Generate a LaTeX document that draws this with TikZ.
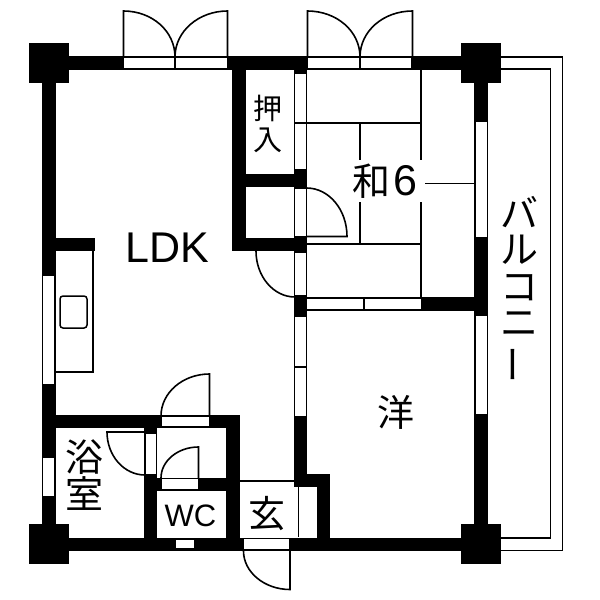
\documentclass[tikz,border=0pt]{standalone}
\usepackage{fontspec}
\setmainfont{Liberation Sans}
\newfontfamily\cjk{Noto Sans CJK JP}
\tikzset{
  wall/.style={fill=black,draw=none},
  win/.style={fill=white,draw=black,line width=1.5pt},
  thin/.style={draw=black,line width=1.5pt},
  tatami/.style={draw=black,line width=1.4pt},
  swing/.style={draw=black,line width=1.6pt},
  jp/.style={inner sep=0pt,align=center,font=\cjk\fontsize{#1}{36.5}\selectfont},
  jpnarrow/.style={inner sep=0pt,align=center,font=\cjk\fontsize{#1}{31}\selectfont},
  lat/.style={inner sep=0pt,font=\fontsize{#1}{#1}\selectfont},
}
\begin{document}
\begin{tikzpicture}[x=1pt,y=-1pt]
\useasboundingbox[fill=white] (0,0) rectangle (600,600);
% balcony rails
\draw[thin] (501,57) -- (562.5,57) -- (562.5,550.5) -- (501,550.5);
\draw[thin] (501,69) -- (550.5,69) -- (550.5,538) -- (501,538);
% tatami and thin partitions
\draw[tatami] (306,123) -- (421,123);
\draw[tatami] (421,70) -- (421,160) (421,202) -- (421,297);
\draw[tatami] (360,123) -- (360,160) (360,202) -- (360,244);
\draw[tatami] (306,244) -- (421,244);
\draw[tatami] (425,183.5) -- (474,183.5);
% kitchen
\draw[thin] (93,251) -- (93,372) -- (55,372);
\draw[thin,rounded corners=3pt] (60,296) rectangle (87,328);
% genkan
\draw[thin] (240,481) -- (294,481);
\draw[thin] (298.5,487) -- (298.5,537);
% walls
\fill[wall] (29,43) rectangle (69,83);
\fill[wall] (461,43) rectangle (501,83);
\fill[wall] (29,524) rectangle (69,564);
\fill[wall] (461,524) rectangle (501,564);
\fill[wall] (69,56) rectangle (461,70);
\fill[wall] (69,537.5) rectangle (461,551);
\fill[wall] (42,83) rectangle (56,524);
\fill[wall] (474,83) rectangle (488,524);
\fill[wall] (232,56) rectangle (246,251);
\fill[wall] (232,237.5) rectangle (294,251);
\fill[wall] (246,174) rectangle (294,187);
\fill[wall] (56,237.5) rectangle (95,251);
\fill[wall] (56,415) rectangle (240,428);
\fill[wall] (226,415) rectangle (240,551);
\fill[wall] (144,428) rectangle (157,551);
\fill[wall] (144,477.5) rectangle (226,491);
\fill[wall] (293.5,56) rectangle (306.5,73);
\fill[wall] (293.5,170) rectangle (306.5,188);
\fill[wall] (293.5,236.5) rectangle (306.5,252);
\fill[wall] (293.5,296) rectangle (306.5,316);
\fill[wall] (293.5,416.5) rectangle (306.5,487);
\fill[wall] (293.5,473.5) rectangle (330,487);
\fill[wall] (317,473.5) rectangle (330,551);
\fill[wall] (421.5,297) rectangle (488,311);
% sliding windows and door sills
\draw[win] (294.5,73) rectangle (306.5,170);
\draw[thin] (294.5,123) -- (306.5,123);
\draw[win] (294.5,188) rectangle (306.5,236.5);
\draw[win] (294.5,252) rectangle (306.5,296);
\draw[win] (294.5,316) rectangle (306.5,416.5);
\draw[thin] (294.5,367) -- (306.5,367);
\draw[win] (306.5,298) rectangle (421.5,310);
\draw[thin] (364,298) -- (364,310);
\draw[win] (475.5,121) rectangle (487.5,238);
\draw[win] (475.5,315) rectangle (487.5,415);
\draw[win] (42.5,275) rectangle (54.5,385);
\draw[win] (42.5,457) rectangle (54.5,497);
\draw[win] (145,433) rectangle (156.5,475);
\draw[win] (123.5,57) rectangle (227.5,69);
\draw[thin] (175,57) -- (175,69);
\draw[win] (307.5,57) rectangle (412,69);
\draw[thin] (360,57) -- (360,69);
\draw[win] (161,416.5) rectangle (209.5,427);
\draw[win] (161.5,478.5) rectangle (198.5,490);
\draw[win] (175.5,539) rectangle (195,549);
\draw[win] (243.5,538.5) rectangle (290,550);
% door leaves
\draw[swing] (123.5,57) -- (123.5,11) .. controls (152,11) and (175,31) .. (175,57);
\draw[swing] (227.5,57) -- (227.5,11) .. controls (199,11) and (175,31) .. (175,57);
\draw[swing] (307.5,57) -- (307.5,11) .. controls (336.5,11) and (360,31) .. (360,57);
\draw[swing] (412.5,57) -- (412.5,11) .. controls (383.5,11) and (360,31) .. (360,57);
\draw[swing] (306.5,188) .. controls (329,188) and (347,209.7) .. (347,236.5) -- (306.5,236.5);
\draw[swing] (256,251) .. controls (256,276.4) and (273.5,297) .. (295,297);
\draw[swing] (209.5,416) -- (209.5,374) .. controls (182.7,374) and (161,392.8) .. (161,416);
\draw[swing] (144,432) -- (107,432) .. controls (107,455.7) and (124,475) .. (145,475);
\draw[swing] (198.5,478) -- (198.5,447) .. controls (177.8,447) and (161,460.9) .. (161,478);
\draw[swing] (290,551) -- (290,589.5) .. controls (264.3,589.5) and (243.5,572) .. (243.5,551);
% labels
\node[lat=43] (ldk) at (167,248) {LDK};
\node[jpnarrow=29] (oshiire) at (268,124) {押\\入};
\fill[white] (350,160) rectangle (425,202);
\node[jp=38] (wa) at (371,181) {和};
\node[lat=43] (six) at (405,181) {6};
\node[jp=37] (yo) at (396,412) {洋};
\node[jp=38] (yoku) at (84,475) {浴\\室};
\node[lat=31] (wc) at (190.5,516) {WC};
\node[jp=37] (gen) at (267,514) {玄};
\node[jp=38] (bal) at (519,290) {バ\\ル\\コ\\ニ\\\rotatebox[origin=c]{90}{ー}};
\end{tikzpicture}
\end{document}
